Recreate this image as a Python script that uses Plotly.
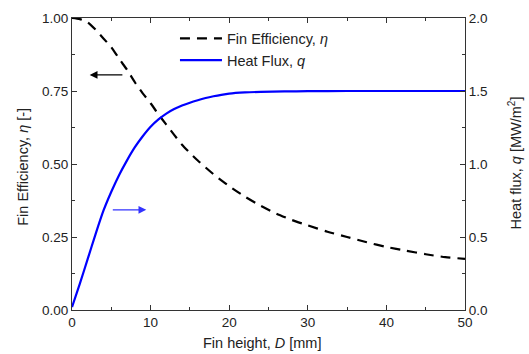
import plotly.graph_objects as go

# Fin efficiency (left axis)
D_eff = [0, 1, 2, 3, 4, 5, 6, 7, 8, 9, 10, 11, 12, 13, 14, 15, 16, 17, 18, 19, 20,
         22, 24, 26, 28, 30, 32.5, 35, 37.5, 40, 42.5, 45, 47.5, 50]
eta = [1.0, 0.996, 0.985, 0.96, 0.93, 0.90, 0.86, 0.823, 0.78, 0.742, 0.708, 0.67,
       0.635, 0.60, 0.566, 0.538, 0.512, 0.488, 0.465, 0.444, 0.424,
       0.388, 0.357, 0.330, 0.308, 0.290, 0.268, 0.250, 0.232, 0.216, 0.203, 0.191,
       0.181, 0.175]

# Heat flux (right axis)
D_q = [0, 1, 2, 3, 4, 5, 6, 7, 8, 9, 10, 11, 12, 13, 14, 15, 16, 17, 18, 19, 20,
       22, 24, 27, 30, 35, 40, 50]
q = [0.02, 0.18, 0.35, 0.52, 0.68, 0.81, 0.925, 1.025, 1.115, 1.19, 1.255, 1.305,
     1.345, 1.376, 1.4, 1.42, 1.437, 1.452, 1.464, 1.474, 1.482,
     1.49, 1.494, 1.497, 1.499, 1.5, 1.5, 1.5]

# Axis titles
x_title = "Fin height, <i>D</i> [mm]"
y_title = "Fin Efficiency, <i>η</i> [-]"
y2_title = "Heat flux, <i>q</i> [MW/m<sup>2</sup>]"

font = "Liberation Sans, Arial, sans-serif"
fig = go.Figure()
fig.add_trace(go.Scatter(x=D_eff, y=eta, mode="lines", name="Fin Efficiency, <i>η</i>",
                         line=dict(color="black", width=2.2, dash="10px,7px", shape="spline",
                                   smoothing=0.6)))
fig.add_trace(go.Scatter(x=D_q, y=q, mode="lines", name="Heat Flux, <i>q</i>", yaxis="y2",
                         line=dict(color="#0000ff", width=2.2, shape="spline", smoothing=0.6)))

axcommon = dict(showgrid=False, zeroline=False, showline=True, linecolor="#333",
                linewidth=1.2, ticks="inside", ticklen=5, tickcolor="#333", automargin=False,
                tickfont=dict(family=font, size=13.5, color="#222"))
tfont = dict(family=font, size=14.5, color="#222")

fig.update_layout(
    width=529, height=354,
    margin=dict(l=72, r=64, t=18, b=44),
    plot_bgcolor="white", paper_bgcolor="white",
    font=dict(family=font, size=14.5, color="#222"),
    showlegend=True,
    legend=dict(x=0.262, y=0.985, xanchor="left", yanchor="top", bgcolor="rgba(0,0,0,0)",
                font=tfont, tracegroupgap=0, itemwidth=42),
    xaxis=dict(range=[0, 50], dtick=10, mirror="ticks",
               minor=dict(ticks="inside", dtick=5, ticklen=3, tickcolor="#333"),
               **axcommon),
    yaxis=dict(range=[0, 1], dtick=0.25, tickformat=".2f", mirror=True,
               minor=dict(ticks="inside", dtick=0.125, ticklen=3, tickcolor="#333"),
               **axcommon),
    yaxis2=dict(range=[0, 2], dtick=0.5, tickformat=".1f", overlaying="y", side="right",
                minor=dict(ticks="inside", dtick=0.25, ticklen=3, tickcolor="#333"),
                **axcommon),
)

fig.add_annotation(text=x_title, xref="paper", yref="paper", x=0.483, y=-0.114,
                   xanchor="center", yanchor="middle", showarrow=False, font=tfont)
fig.add_annotation(text=y_title, xref="paper", yref="paper", x=-0.125, y=0.49,
                   xanchor="center", yanchor="middle", showarrow=False, font=tfont, textangle=-90)
fig.add_annotation(text=y2_title, xref="paper", yref="paper", x=1.127, y=0.505,
                   xanchor="center", yanchor="middle", showarrow=False, font=tfont, textangle=-90)

fig.add_annotation(x=2.25, y=0.805, ax=6.6, ay=0.805, xref="x", yref="y", axref="x", ayref="y",
                   showarrow=True, arrowhead=2, arrowsize=1.2, arrowwidth=1.3, arrowcolor="black",
                   text="")
fig.add_annotation(x=9.45, y=0.343, ax=5.0, ay=0.343, xref="x", yref="y", axref="x", ayref="y",
                   showarrow=True, arrowhead=2, arrowsize=1.2, arrowwidth=1.3, arrowcolor="#3333ff",
                   text="")

fig.write_html("out.html")
